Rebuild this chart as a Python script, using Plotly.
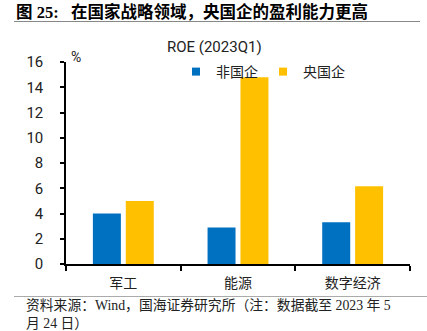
import plotly.graph_objects as go

categories = ["军工", "能源", "数字经济"]
non_soe = [4.0, 2.9, 3.3]
central_soe = [5.0, 14.8, 6.15]
series_names = ["非国企", "央国企"]
series_colors = ["#0070C0", "#FFC000"]
y_ticks = [0, 2, 4, 6, 8, 10, 12, 14, 16]

W, H = 427, 331
L, R, T, B = 66, 17, 62, 67
pw, ph = W - L - R, H - T - B

def px(x):
    return (x - L) / pw

def py(y):
    return (H - B - y) / ph

CJK = "Noto Sans CJK SC"
SERIF = "Liberation Serif, Noto Sans CJK SC"

fig = go.Figure()
for name, vals, col in zip(series_names, [non_soe, central_soe], series_colors):
    fig.add_trace(go.Bar(x=categories, y=vals, name=name, showlegend=False,
                         marker=dict(color=col, line=dict(width=0))))
for name, col in zip(series_names, series_colors):
    fig.add_trace(go.Scatter(x=[None], y=[None], mode="markers", name=name,
                             marker=dict(symbol="square", size=8, color=col)))

fig.update_layout(
    width=W, height=H,
    margin=dict(l=L, r=R, t=T, b=B, autoexpand=False),
    plot_bgcolor="white", paper_bgcolor="white",
    barmode="group", bargap=0.426, bargroupgap=0.15,
    showlegend=True,
    legend=dict(orientation="h", x=px(176), y=py(72), xanchor="left", yanchor="middle",
                font=dict(family=CJK, size=14, color="#222"),
                itemwidth=30, tracegroupgap=0, bgcolor="rgba(0,0,0,0)"),
    xaxis=dict(type="category", range=[-0.5, 2.5], showline=True, linecolor="black",
               linewidth=1.5, ticks="outside", tickson="boundaries", ticklen=5,
               tickcolor="black", tickwidth=1.5, showgrid=False, ticklabelstandoff=5,
               tickfont=dict(family=CJK, size=14, color="#222")),
    yaxis=dict(range=[0, 16], tickvals=y_ticks, showline=True, linecolor="black",
               linewidth=1.5, ticks="outside", ticklen=4, tickcolor="black", tickwidth=1.5,
               showgrid=False, zeroline=False, ticklabelstandoff=14,
               tickfont=dict(family="Roboto, Noto Sans", size=15, color="#222")),
)

annotations = [
    dict(text="<b>图 25:   在国家战略领域，央国企的盈利能力更高</b>", x=px(14), y=py(12),
         xanchor="left", yanchor="middle", font=dict(family=SERIF, size=16.5, color="black")),
    dict(text="ROE (2023Q1)", x=px(214), y=py(47), xanchor="center", yanchor="middle",
         font=dict(family="Roboto, Noto Sans", size=15, color="#222")),
    dict(text="%", x=px(69), y=py(57), xanchor="left", yanchor="middle",
         font=dict(family="Roboto, Noto Sans", size=14, color="#222")),
    dict(text="资料来源：Wind，国海证券研究所（注：数据截至 2023 年 5", x=px(24), y=py(305),
         xanchor="left", yanchor="middle", font=dict(family=SERIF, size=13.8, color="#222")),
    dict(text="月 24 日）", x=px(24), y=py(323),
         xanchor="left", yanchor="middle", font=dict(family=SERIF, size=13.8, color="#222")),
]
for a in annotations:
    a.update(xref="paper", yref="paper", showarrow=False)
fig.update_layout(annotations=annotations)

fig.add_shape(type="line", xref="paper", yref="paper", x0=px(14), x1=px(420), y0=py(21.5), y1=py(21.5),
              line=dict(color="#888", width=1))
fig.add_shape(type="line", xref="paper", yref="paper", x0=px(14), x1=px(427), y0=py(296.5), y1=py(296.5),
              line=dict(color="#aaa", width=1))

fig.write_html("out.html")
